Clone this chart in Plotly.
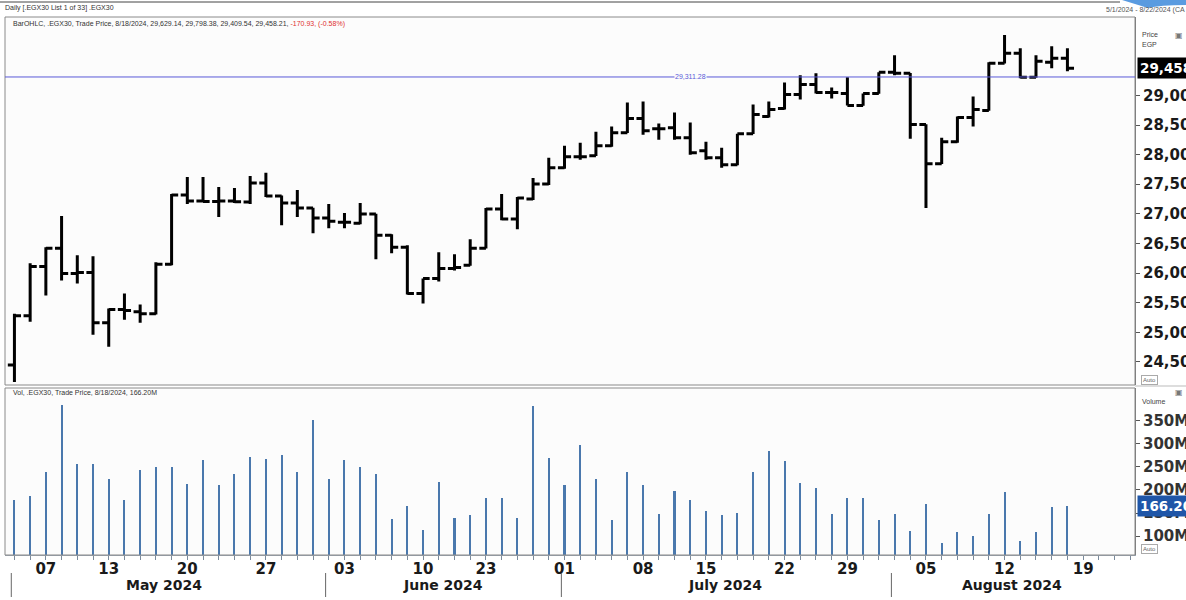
import plotly.graph_objects as go

# ---------------- data ----------------
dates = [
    "2024-05-02", "2024-05-05", "2024-05-07", "2024-05-08", "2024-05-09", "2024-05-12", "2024-05-13",
    "2024-05-14", "2024-05-15", "2024-05-16", "2024-05-19", "2024-05-20", "2024-05-21", "2024-05-22",
    "2024-05-23", "2024-05-26", "2024-05-27", "2024-05-28", "2024-05-29", "2024-05-30",
    "2024-06-02", "2024-06-03", "2024-06-04", "2024-06-05", "2024-06-06", "2024-06-09", "2024-06-10",
    "2024-06-11", "2024-06-12", "2024-06-13", "2024-06-23", "2024-06-24", "2024-06-25", "2024-06-26",
    "2024-06-27",
    "2024-07-01", "2024-07-02", "2024-07-03", "2024-07-04", "2024-07-07", "2024-07-08", "2024-07-09",
    "2024-07-10", "2024-07-14", "2024-07-15", "2024-07-16", "2024-07-17", "2024-07-18", "2024-07-21",
    "2024-07-22", "2024-07-24", "2024-07-25", "2024-07-28", "2024-07-29", "2024-07-30", "2024-07-31",
    "2024-08-01", "2024-08-04", "2024-08-05", "2024-08-06", "2024-08-07", "2024-08-08", "2024-08-11",
    "2024-08-12", "2024-08-13", "2024-08-14", "2024-08-15", "2024-08-18",
]

opens = [24449, 25281, 26113, 26419, 25994, 26011, 25162, 25383, 25349, 25315,
         26147, 27319, 27217, 27210, 27217, 27200, 27522, 27302, 27183, 27098,
         26928, 26860, 26843, 26996, 26640, 26436, 25655, 25910, 26079, 26130,
         26419, 27081, 26911, 27251, 27505, 27777, 27964, 27981, 28151, 28371,
         28609, 28439, 28456, 28287, 28066, 27947, 27828, 28354, 28643, 28779,
         29017, 29186, 29051, 29034, 28830, 29034, 29390, 29373, 28507, 27845,
         28219, 28626, 28745, 29543, 29713, 29305, 29560, 29629.14]
highs = [25315, 26164, 26436, 26962, 26300, 26283, 25400, 25655, 25468, 26181,
         27336, 27624, 27624, 27455, 27438, 27641, 27692, 27310, 27404, 27105,
         27166, 27013, 27183, 27000, 26657, 26470, 25910, 26351, 26317, 26572,
         27098, 27336, 27285, 27607, 27947, 28151, 28202, 28388, 28473, 28881,
         28898, 28524, 28711, 28541, 28219, 28117, 28354, 28847, 28898, 29220,
         29339, 29373, 29135, 29305, 29034, 29390, 29679, 29380, 28515, 28287,
         28643, 28983, 29560, 30018, 29798, 29679, 29832, 29798.38]
lows = [24161, 25179, 25621, 25876, 25825, 24959, 24755, 25213, 25162, 25300,
        26130, 27166, 27200, 26945, 27183, 27166, 27285, 26809, 26945, 26674,
        26758, 26758, 26826, 26232, 26334, 25638, 25485, 25859, 26045, 26125,
        26415, 26894, 26741, 27234, 27489, 27760, 27913, 27975, 28134, 28365,
        28337, 28253, 28253, 27998, 27913, 27777, 27820, 28350, 28626, 28762,
        28932, 29034, 28949, 28830, 28825, 29030, 29339, 28270, 27098, 27840,
        28202, 28473, 28740, 29540, 29288, 29300, 29458, 29409.54]
closes = [25281, 26113, 26419, 25994, 26011, 25162, 25383, 25370, 25315, 26147,
          27319, 27217, 27210, 27217, 27205, 27522, 27302, 27183, 27098, 26928,
          26877, 26860, 26996, 26640, 26436, 25655, 25910, 26079, 26096, 26419,
          27081, 26911, 27268, 27505, 27777, 27964, 27964, 28151, 28371, 28609,
          28405, 28439, 28287, 28032, 27947, 27828, 28354, 28677, 28762, 29017,
          29186, 29051, 29051, 28830, 29034, 29390, 29373, 28507, 27845, 28219,
          28626, 28762, 29543, 29713, 29305, 29577, 29629.14, 29458.21]

volumes_m = [178, 187, 239, 385, 257, 257, 224, 178, 243, 250,
             250, 213, 265, 211, 235, 272, 267, 276, 239, 352,
             224, 265, 250, 235, 137, 165, 113, 217, 139, 146,
             183, 183, 139, 383, 270, 211, 298, 224, 135, 239,
             211, 148, 198, 178, 154, 146, 150, 239, 285, 263,
             215, 204, 148, 183, 183, 135, 148, 111, 170, 85,
             109, 100, 148, 196, 89, 109, 163, 166.2]

day_tick_idx = [3, 7, 12, 17, 22, 27, 31, 36, 41, 45, 50, 54, 59, 64, 69]
day_tick_text = ["07", "13", "20", "27", "03", "10", "23", "01", "08", "15", "22", "29", "05", "12", "19"]
month_labels = ["May 2024", "June 2024", "July 2024", "August 2024"]
month_label_idx = [10.5, 28.3, 46.2, 64.5]
month_sep_idx = [0.8, 20.8, 35.8, 56.8]

price_ticks = [24500, 25000, 25500, 26000, 26500, 27000, 27500, 28000, 28500, 29000]
vol_ticks_m = [100, 150, 200, 250, 300, 350]
ref_line = 29311.28
last_close = 29458.21
last_vol = 166.20

# ---------------- geometry helpers ----------------
W, H = 1186, 600
ML, MR, MT, MB = 5, 51, 17, 45
PW, PH = W - ML - MR, H - MT - MB


def px(x):
    return (x - ML) / PW


def py(y):
    return (H - MB - y) / PH


idx = list(range(1, len(dates) + 1))
FONT = "DejaVu Sans"

fig = go.Figure()
fig.add_trace(go.Ohlc(
    x=idx, open=opens, high=highs, low=lows, close=closes,
    increasing=dict(line=dict(color="black", width=3)),
    decreasing=dict(line=dict(color="black", width=3)),
    tickwidth=0.42, xaxis="x", yaxis="y", showlegend=False,
    text=dates, hoverinfo="text+y",
))
fig.add_trace(go.Bar(
    x=idx, y=[v * 1e6 for v in volumes_m], width=0.13,
    marker=dict(color="#4a78ad", line=dict(width=0)),
    xaxis="x", yaxis="y2", showlegend=False,
))

price_dom = [py(385), 1.0]
vol_dom = [0.0, py(388)]

fig.update_layout(
    width=W, height=H,
    margin=dict(l=ML, r=MR, t=MT, b=MB, autoexpand=False),
    paper_bgcolor="white", plot_bgcolor="#fcfcfc",
    hovermode=False,
    bargap=0,
    xaxis=dict(
        domain=[0, 1], range=[0.4, 72.3], anchor="y2", automargin=False,
        rangeslider=dict(visible=False),
        showgrid=False, zeroline=False,
        tickmode="array", tickvals=day_tick_idx, ticktext=day_tick_text,
        ticks="", tickfont=dict(family=FONT, size=15, color="#1a1a1a", weight="bold"),
        showline=True, linecolor="#9aa6b4", linewidth=1,
        minor=dict(ticks="outside", dtick=1, tick0=1, ticklen=4, tickcolor="#7a8a9c", showgrid=False),
    ),
    yaxis=dict(
        domain=price_dom, range=[24110, 30324], side="right", automargin=False,
        showgrid=False, zeroline=False,
        tickmode="array", tickvals=price_ticks, ticktext=[f"{v:,}" for v in price_ticks],
        ticks="outside", ticklen=4, tickcolor="#555",
        tickfont=dict(family=FONT, size=15, color="#1a1a1a", weight="bold"),
        showline=True, linecolor="#777", linewidth=1,
    ),
    yaxis2=dict(
        domain=vol_dom, range=[58.7e6, 421.7e6], side="right", anchor="x", automargin=False,
        showgrid=False, zeroline=False,
        tickmode="array", tickvals=[v * 1e6 for v in vol_ticks_m],
        ticktext=[f"{v}M" for v in vol_ticks_m],
        ticks="outside", ticklen=4, tickcolor="#555",
        tickfont=dict(family=FONT, size=15, color="#333", weight="bold"),
        showline=True, linecolor="#777", linewidth=1,
    ),
)

shapes = []
# top header rule and blue corner decoration
shapes.append(dict(type="line", xref="paper", yref="paper", x0=px(0), x1=px(1120), y0=py(2), y1=py(2),
                   line=dict(color="#444", width=1)))
shapes.append(dict(type="path", xref="paper", yref="paper",
                   path=f"M {px(1122)},{py(0)} L {px(1186)},{py(0)} L {px(1186)},{py(5)} "
                        f"Q {px(1160)},{py(5)} {px(1148)},{py(8)} L {px(1122)},{py(0)} Z",
                   fillcolor="#5a9be0", line=dict(width=0), layer="below"))
# panel borders
shapes.append(dict(type="rect", xref="paper", yref="paper", x0=px(5), x1=px(1135), y0=py(385), y1=py(17),
                   line=dict(color="#8a8a8a", width=1)))
shapes.append(dict(type="rect", xref="paper", yref="paper", x0=px(5), x1=px(1135), y0=py(555), y1=py(388),
                   line=dict(color="#8a8a8a", width=1)))
shapes.append(dict(type="line", xref="paper", yref="paper", x0=px(1135), x1=px(1186), y0=py(386), y1=py(386),
                   line=dict(color="#bbb", width=1)))
# reference line
shapes.append(dict(type="line", xref="paper", yref="y", x0=0, x1=1, y0=ref_line, y1=ref_line,
                   line=dict(color="#5a5ad8", width=1)))
# month separators
for s in month_sep_idx:
    shapes.append(dict(type="line", xref="x", yref="paper", x0=s, x1=s, y0=py(573), y1=py(597),
                       line=dict(color="#666", width=1)))
fig.update_layout(shapes=shapes)

ann = []
small = dict(family="Liberation Sans", size=7, color="#333")
ann.append(dict(text="Daily [.EGX30 List 1 of 33] .EGX30", x=px(3), y=py(8), xref="paper", yref="paper",
                xanchor="left", yanchor="middle", showarrow=False, font=small))
ann.append(dict(text="5/1/2024 - 8/22/2024 (CA", x=px(1104), y=py(10), xref="paper", yref="paper",
                xanchor="left", yanchor="middle", showarrow=False, font=dict(family="Liberation Sans", size=7, color="#555")))
ann.append(dict(text="BarOHLC, .EGX30, Trade Price, 8/18/2024, 29,629.14, 29,798.38, 29,409.54, 29,458.21, "
                     "<span style='color:#e03030'>-170.93, (-0.58%)</span>",
                x=px(11), y=py(24), xref="paper", yref="paper", xanchor="left", yanchor="middle",
                showarrow=False, font=small))
ann.append(dict(text=f"Vol, .EGX30, Trade Price, 8/18/2024, {last_vol:.2f}M",
                x=px(11), y=py(392), xref="paper", yref="paper", xanchor="left", yanchor="middle",
                showarrow=False, font=small))
for t, yy in (("Price", 34), ("EGP", 44), ("Volume", 401)):
    ann.append(dict(text=t, x=px(1140), y=py(yy), xref="paper", yref="paper", xanchor="left", yanchor="middle",
                    showarrow=False, font=dict(family="Liberation Sans", size=7, color="#444")))
for yy in (380, 549):
    ann.append(dict(text="Auto", x=px(1141), y=py(yy), xref="paper", yref="paper", xanchor="left", yanchor="middle",
                    showarrow=False, font=dict(family="Liberation Sans", size=6, color="#666"),
                    bordercolor="#aaa", borderwidth=1, borderpad=1, bgcolor="white"))
for yy in (36, 392):
    ann.append(dict(text="▣", x=px(1179), y=py(yy), xref="paper", yref="paper", xanchor="center", yanchor="middle",
                    showarrow=False, font=dict(family="DejaVu Sans", size=8, color="#777")))
# ref-line label
ann.append(dict(text=f"{ref_line:,.2f}", x=44, y=ref_line, xref="x", yref="y", showarrow=False,
                font=dict(family="Liberation Sans", size=7, color="#5a5ad8"), bgcolor="#fcfcfc", borderpad=0))
# last price label
ann.append(dict(text=f"{last_close:,.0f}", x=px(1137), y=last_close, xref="paper", yref="y",
                xanchor="left", yanchor="middle", showarrow=False, bgcolor="black", borderpad=2,
                font=dict(family=FONT, size=13.5, color="white", weight="bold")))
# last volume label
ann.append(dict(text=f"{last_vol:.2f}M", x=px(1137), y=last_vol * 1e6, xref="paper", yref="y2",
                xanchor="left", yanchor="middle", showarrow=False, bgcolor="#1f56a8", borderpad=2,
                font=dict(family=FONT, size=13.5, color="white", weight="bold")))
# month labels
for lab, mi in zip(month_labels, month_label_idx):
    ann.append(dict(text=lab, x=mi, y=py(585), xref="x", yref="paper", xanchor="center", yanchor="middle",
                    showarrow=False, font=dict(family=FONT, size=14, color="#1a1a1a", weight="bold")))
fig.update_layout(annotations=ann)

fig.write_html("out.html", config={"displayModeBar": False},
               post_script="document.body.style.margin='0';document.body.style.overflow='hidden';")
